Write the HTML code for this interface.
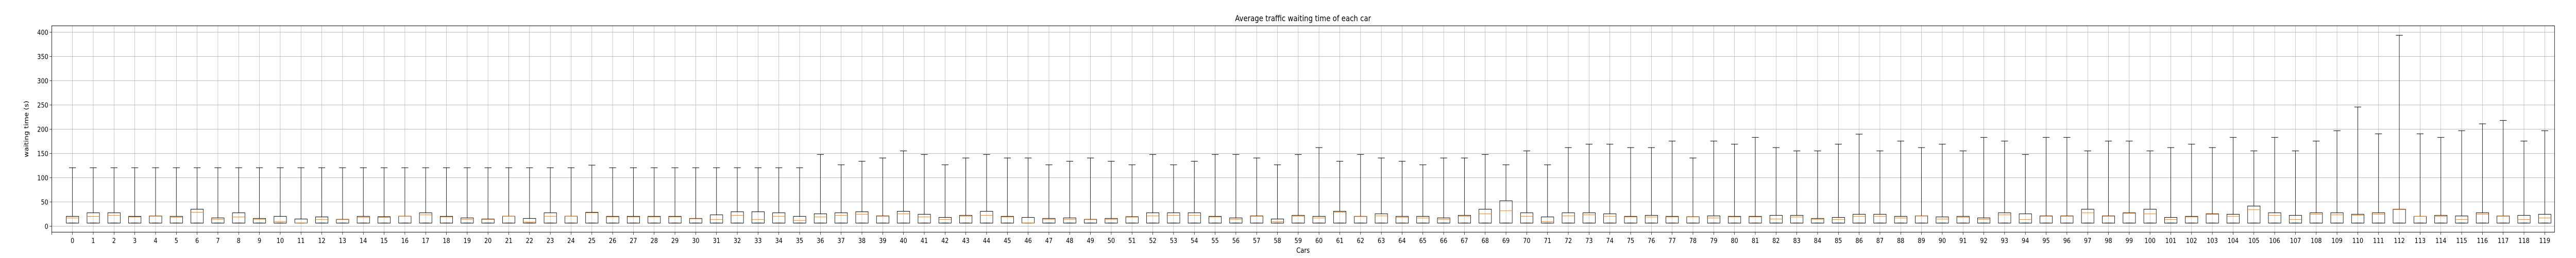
<!DOCTYPE html>
<html><head><meta charset="utf-8"><style>
html,body{margin:0;padding:0;background:#fff;width:100%;height:100%;overflow:hidden;}
svg{display:block;width:100vw;height:100vh;font-family:"DejaVu Sans","Liberation Sans",sans-serif;}
</style></head><body>
<svg id="chart" viewBox="0 0 6000 500" preserveAspectRatio="none" xmlns="http://www.w3.org/2000/svg">
<rect x="0" y="0" width="6000" height="500" fill="#fff"/>
<g id="grid"></g><g id="marks"></g><g id="axes"></g>
<text x="3035" y="41" text-anchor="middle" font-size="16">Average traffic waiting time of each car</text>
<text x="3035" y="490" text-anchor="middle" font-size="14">Cars</text>
<text x="0" y="0" transform="translate(66,250) rotate(-90)" text-anchor="middle" font-size="14">waiting time (s)</text>
</svg>
<script>
const yTicks = [0,50,100,150,200,250,300,350,400];
const q1 = 6.4;
const whiskerHi = [120.5,120.5,120.5,120.5,120.5,120.5,120.5,120.5,120.5,120.5,120.5,120.5,120.5,120.5,120.5,120.5,120.5,120.5,120.5,120.5,120.5,120.5,120.5,120.5,120.5,125.8,120.5,120.5,120.5,120.5,120.5,120.5,120.5,120.5,
120.5,120.5,147.8,126.5,133.9,140.6,155.2,147.8,126.5,140.6,147.8,140.6,
140.6,126.5,133.9,140.6,133.9,126.5,147.8,126.5,133.9,147.8,147.8,140.6,126.5,
147.8,162,133.9,147.8,140.6,133.9,126.5,140.6,140.6,147.8,126.5,155.2,
126.5,162,169.1,169.1,162,162,175.5,140.6,175.5,169.1,183,162,155.2,
155.2,169.1,189.7,155.2,175.5,162,169.1,155.2,183,175.5,147.8,183,
183,155.2,175.5,175.5,155.2,162,169.1,162,183,155.2,183,155.2,175.5,
196.8,245.7,190.4,393.6,190.4,183,196.8,211,218,175.5,196.8];
const q3 = [20.2,27.6,27.6,20.2,21,20.2,35,17,27.6,15.9,20.2,14.8,19.1,14,20.2,19.5,20.5,27.6,20.2,17,14.8,
20.5,15.9,27.6,20.5,28.6,20.2,20.2,20.2,20.2,15.9,23.4,29.7,29.7,
27.6,20.2,25.5,27.6,29.7,21.2,30.7,24.5,18,22.3,30.7,20.2,
18,15.9,17,14,15.9,19.5,27.6,27.6,27.6,20.2,17,21.2,14.8,
22.3,20.2,30.7,20.2,25.5,20.2,20.2,17,22.3,35,52.4,27.6,
19.1,27.6,27.6,25.5,20.2,22.3,20.2,19.5,21.2,20.2,20.2,22.3,22.3,
15.9,18,24.5,24.5,20.2,21.2,19.1,20.2,17,27.6,25.5,21.2,
21.2,35,21.2,27.6,35,18,20.2,25.5,24.5,41.5,27.6,22.3,27.6,
27.6,24.5,27.6,35,20.2,22.3,21,27.6,21,22.3,24.5];
const medians = [17,20,22.3,19,20.5,18,28.7,13.8,19,13.8,9.6,6.7,13.8,13.5,18,18.4,20.2,23.4,19.1,13.8,14,
20.2,8.5,20.2,20.2,27.6,19.1,19.1,19.1,19.1,15.2,13.8,22.3,13.8,
20.2,11.7,19.1,22.3,24.5,20.5,25.5,19.1,13.8,20.2,22.3,19.1,
6.7,13.8,13.8,13.5,13.8,18.7,21.2,22.3,22.3,19.1,13.8,20.5,9.6,
20.2,17,28.6,19.8,21.2,18,17,13.8,20.2,25.5,31.9,20.2,
9.6,21.2,23.4,20.2,19.1,19.1,19.1,19.1,17,19.1,19.1,14.8,19.1,
13.8,13.8,20.2,20.2,17,20.8,14.8,18,13.8,23.4,13.8,20.5,
20.5,27.6,20.5,26.6,25.5,13.8,19.1,24.5,20.2,34,22.3,13.8,24.5,
23.4,22.3,24.5,34.3,20,20,13.8,24.5,20.5,13.8,17];
const categories = Array.from({length:120},(_,i)=>String(i));

const L=120.5,R=5950,T=50,B=450;
const xPos = i => 168.8 + i*48.39;
const yPos = v => 438.3 - v*0.94;
const NS="http://www.w3.org/2000/svg";
function mk(tag, attrs, parent){const e=document.createElementNS(NS,tag);for(const k in attrs)e.setAttribute(k,attrs[k]);parent.appendChild(e);return e;}
const grid=document.getElementById('grid'), marks=document.getElementById('marks'), axes=document.getElementById('axes');

yTicks.forEach(v=>{
  const y=yPos(v);
  const g=mk('line',{x1:L,x2:R,y1:y,y2:y,stroke:'#b0b0b0','stroke-width':0.8},grid);
  
  
  mk('line',{x1:L-5,x2:L,y1:y,y2:y,stroke:'#000','stroke-width':0.8},axes);
  const t=mk('text',{x:L-8,y:y+5,'text-anchor':'end','font-size':13.5},axes);
  t.textContent=v;
  
  
});
mk('line',{x1:L,x2:L,y1:B,y2:B+5,stroke:'#000','stroke-width':0.8},axes);
categories.forEach((c,i)=>{
  const x=xPos(i);
  const g=mk('line',{x1:x,x2:x,y1:T,y2:B,stroke:'#b0b0b0','stroke-width':0.8},grid);
  
  
  mk('line',{x1:x,x2:x,y1:B,y2:B+5,stroke:'#000','stroke-width':0.8},axes);
  const t=mk('text',{x:x,y:471,'text-anchor':'middle','font-size':13.5},axes);
  t.textContent=c;
  
  

  const grp=mk('g',{},marks);
  
  
  const yq1=yPos(q1), yq3=yPos(q3[i]), yw=yPos(whiskerHi[i]), ym=yPos(medians[i]);
  mk('line',{x1:x,x2:x,y1:yq3,y2:yw,stroke:'#000','stroke-width':1},grp);
  mk('line',{x1:x-8,x2:x+8,y1:yw,y2:yw,stroke:'#000','stroke-width':1},grp);
  mk('line',{x1:x-8,x2:x+8,y1:yq1,y2:yq1,stroke:'#000','stroke-width':1},grp);
  mk('rect',{x:x-14.5,y:yq3,width:29,height:Math.max(yq1-yq3,0.5),fill:'none',stroke:'#000','stroke-width':1},grp);
  mk('line',{x1:x-14.5,x2:x+14.5,y1:ym,y2:ym,stroke:'#ff7f0e','stroke-width':1},grp);
});
const frame=mk('rect',{x:L,y:T,width:R-L,height:B-T,fill:'none',stroke:'#000','stroke-width':1},axes);


</script>
</body></html>
